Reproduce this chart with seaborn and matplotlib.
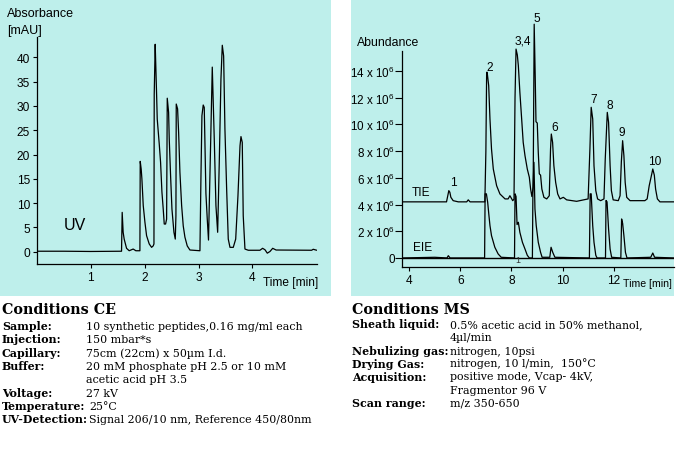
import matplotlib
matplotlib.use("Agg")
import matplotlib.pyplot as plt
import seaborn as sns
import pandas as pd
from matplotlib.patches import Rectangle

# ---------------- data ----------------
# CE / UV electropherogram (time [min], absorbance [mAU])
ce_time = [0.00, 0.50, 1.00, 1.57, 1.582, 1.60, 1.619, 1.663, 1.712, 1.786, 1.836, 1.911,
           1.917, 1.935, 1.948, 1.973, 2.004, 2.035, 2.084, 2.128, 2.158, 2.172, 2.177,
           2.195, 2.208, 2.221, 2.233, 2.27, 2.295, 2.32, 2.344, 2.363, 2.388, 2.407,
           2.419, 2.444, 2.456, 2.481, 2.506, 2.543, 2.568, 2.58, 2.586, 2.611, 2.63,
           2.654, 2.686, 2.716, 2.747, 2.79, 2.84, 3.026, 3.045, 3.063, 3.087, 3.106,
           3.137, 3.162, 3.185, 3.225, 3.255, 3.292, 3.323, 3.355, 3.385, 3.416, 3.441,
           3.466, 3.49, 3.522, 3.552, 3.584, 3.645, 3.69, 3.732, 3.77, 3.788, 3.812,
           3.83, 3.862, 3.924, 4.14, 4.19, 4.234, 4.277, 4.327, 4.377, 4.44, 5.10,
           5.13, 5.195]
ce_mau = [0.1, 0.1, 0.05, 0.1, 8.1, 4.0, 2.6, 0.7, 0.2, 0.55, 0.2, 0.2,
          18.6, 17.0, 15.0, 9.5, 6.1, 3.3, 1.6, 0.9, 1.2, 1.6, 32.4,
          42.7, 37.6, 32.4, 27.3, 22.2, 18.4, 12.3, 8.8, 5.7, 5.7, 6.7,
          31.6, 28.7, 23.2, 15.6, 8.8, 4.0, 2.6, 7.4, 30.4, 29.4, 24.6,
          16.4, 9.5, 5.3, 3.0, 1.2, 0.35, 0.2, 15.6, 28.0, 30.2, 29.7,
          12.0, 6.7, 2.4, 22.5, 38.0, 23.2, 9.5, 4.0, 18.4, 35.5, 42.5,
          40.3, 25.3, 12.9, 2.6, 0.9, 0.9, 2.6, 11.5, 21.8, 23.7, 22.5,
          7.4, 0.55, 0.3, 0.3, 0.7, 0.4, -0.3, 0.05, 0.7, 0.35, 0.3,
          0.5, 0.3]

# MS total ion electropherogram (time [min], abundance [x10^6])
tie_time = [3.73, 4.94, 5.46, 5.55, 5.59, 5.63, 5.72, 5.92, 6.25, 6.31, 6.38, 6.96,
            7.00, 7.03, 7.05, 7.11, 7.16, 7.22, 7.29, 7.42, 7.55, 7.75, 7.87, 7.94,
            8.05, 8.10, 8.14, 8.18, 8.23, 8.27, 8.33, 8.40, 8.46, 8.53, 8.62, 8.70,
            8.75, 8.80, 8.85, 8.89, 8.93, 8.96, 9.01, 9.05, 9.09, 9.14, 9.19, 9.27,
            9.38, 9.48, 9.53, 9.56, 9.61, 9.66, 9.73, 9.81, 9.90, 10.03, 10.16, 10.55,
            11.00, 11.07, 11.12, 11.18, 11.23, 11.30, 11.37, 11.49, 11.62, 11.67, 11.75,
            11.80, 11.86, 11.91, 11.98, 12.18, 12.25, 12.30, 12.35, 12.40, 12.45, 12.51,
            12.64, 13.22, 13.31, 13.39, 13.49, 13.53, 13.59, 13.64, 13.71, 13.81, 14.36]
tie_abund = [4.2, 4.2, 4.2, 5.04, 4.92, 4.54, 4.29, 4.2, 4.2, 4.35, 4.2, 4.2,
             8.0, 13.9, 13.9, 12.9, 10.4, 8.16, 6.66, 5.41, 4.79, 4.42, 4.42, 4.66,
             4.29, 4.4, 12.0, 15.64, 15.2, 14.4, 12.4, 10.4, 8.66, 7.66, 6.66, 6.04,
             5.16, 4.6, 5.3, 17.5, 13.6, 10.2, 10.1, 7.9, 6.3, 6.2, 5.16, 4.54,
             4.42, 4.66, 8.16, 9.28, 8.66, 6.91, 5.66, 4.79, 4.42, 4.54, 4.35, 4.24,
             4.42, 8.16, 11.28, 10.4, 6.9, 5.04, 4.42, 4.29, 4.42, 7.41, 10.9,
             10.16, 6.91, 5.04, 4.35, 4.29, 4.66, 7.2, 8.78, 7.66, 5.66, 4.54,
             4.29, 4.29, 4.42, 5.41, 6.29, 6.66, 6.2, 5.16, 4.42, 4.2, 4.2]

# MS extracted ion electropherogram
eie_time = [3.73, 5.00, 5.48, 5.53, 5.60, 6.95, 6.97, 7.02, 7.07, 7.12, 7.16, 7.22,
            7.35, 7.48, 7.60, 8.12, 8.14, 8.18, 8.22, 8.27, 8.33, 8.43, 8.53, 8.62,
            8.70, 8.82, 8.84, 8.88, 8.92, 8.97, 9.05, 9.14, 9.20, 9.50, 9.55, 9.62,
            9.70, 11.05, 11.08, 11.12, 11.18, 11.23, 11.30, 11.35, 11.68, 11.70, 11.74,
            11.80, 11.86, 11.92, 12.28, 12.31, 12.35, 12.40, 12.46, 12.52, 13.45, 13.53,
            13.60, 14.36]
eie_abund = [0.0, 0.05, 0.0, 0.17, 0.0, 0.0, 4.8, 4.8, 4.17, 3.17, 2.42, 1.67,
             0.8, 0.3, 0.05, 0.0, 4.8, 4.6, 2.5, 2.67, 1.92, 1.17, 0.67, 0.2,
             0.0, 0.0, 5.0, 7.16, 3.67, 2.42, 1.17, 0.42, 0.05, 0.05, 0.8, 0.4,
             0.05, 0.0, 4.8, 4.8, 2.42, 1.17, 0.2, 0.0, 0.0, 4.3, 4.2,
             2.17, 0.67, 0.05, 0.0, 2.92, 2.6, 1.67, 0.42, 0.0, 0.05, 0.37,
             0.05, 0.0]

# peak labels on the MS trace
peak_labels = ["1", "2", "3,4", "5", "6", "7", "8", "9", "10"]
peak_label_t = [5.72, 7.16, 8.44, 8.99, 9.70, 11.20, 11.86, 12.33, 13.62]
peak_label_v = [5.7, 14.3, 16.3, 18.0, 9.78, 11.9, 11.45, 9.4, 7.28]

ce_yticks = [0, 5, 10, 15, 20, 25, 30, 35, 40]
ce_xticks = [1, 2, 3, 4]
ms_yticks = [0, 2, 4, 6, 8, 10, 12, 14]
ms_ytick_labels = ["0"] + [f"{v} x 10$^{{6}}$" for v in ms_yticks[1:]]
ms_xticks = [4, 6, 8, 10, 12]

ce_labels = ["Sample:", "Injection:", "Capillary:", "Buffer:", "", "Voltage:",
             "Temperature:", "UV-Detection:"]
ce_values = ["10 synthetic peptides,0.16 mg/ml each", "150 mbar*s",
             "75cm (22cm) x 50µm I.d.", "20 mM phosphate pH 2.5 or 10 mM",
             "acetic acid pH 3.5", "27 kV", "25°C",
             "Signal 206/10 nm, Reference 450/80nm"]
ms_labels = ["Sheath liquid:", "", "Nebulizing gas:", "Drying Gas:", "Acquisition:",
             "", "Scan range:"]
ms_values = ["0.5% acetic acid in 50% methanol,", "4µl/min", "nitrogen, 10psi",
             "nitrogen, 10 l/min,  150°C", "positive mode, Vcap- 4kV,",
             "Fragmentor 96 V", "m/z 350-650"]

# ---------------- style ----------------
sns.set_theme(style="ticks")
SANS = ["Liberation Sans", "DejaVu Sans"]
plt.rcParams["font.family"] = SANS
plt.rcParams["mathtext.fontset"] = "custom"
plt.rcParams["mathtext.rm"] = "Liberation Sans"
plt.rcParams["mathtext.it"] = "Liberation Sans:italic"
for k in ["text.color", "axes.labelcolor", "xtick.color", "ytick.color",
          "xtick.labelcolor", "ytick.labelcolor", "axes.edgecolor"]:
    plt.rcParams[k] = "black"
CYAN = "#BEEFEB"
W, H = 680, 452

fig = plt.figure(figsize=(W / 100, H / 100), dpi=100)
fig.patch.set_facecolor("white")


def fx(x):
    return x / W


def fy(y):
    return 1 - y / H


def px_axes(left, top, right, bottom):
    return fig.add_axes([fx(left), fy(bottom), (right - left) / W, (bottom - top) / H])


# background panels
fig.add_artist(Rectangle((0, fy(297)), fx(331), 297 / H, transform=fig.transFigure,
                         facecolor=CYAN, edgecolor="none", zorder=0))
fig.add_artist(Rectangle((fx(351), fy(297)), fx(674 - 351), 297 / H,
                         transform=fig.transFigure, facecolor=CYAN, edgecolor="none",
                         zorder=0))

# ---------------- left panel: UV ----------------
ax1 = px_axes(37, 38, 317, 265)
ax1.set_facecolor("none")
ce_df = pd.DataFrame({"t": ce_time, "v": ce_mau})
sns.lineplot(data=ce_df, x="t", y="v", ax=ax1, color="black", lw=0.9,
             sort=False, estimator=None)
ax1.set_xlim(0, 5.2)
ax1.set_ylim(-2.53, 44.2)
ax1.set_xticks(ce_xticks)
ax1.set_yticks(ce_yticks)
ax1.set_xlabel("")
ax1.set_ylabel("")
for s in ["top", "right"]:
    ax1.spines[s].set_visible(False)
for s in ["left", "bottom"]:
    ax1.spines[s].set_color("black")
    ax1.spines[s].set_linewidth(0.9)
ax1.tick_params(axis="both", direction="out", length=3, width=0.8, colors="black",
                labelsize=8.6, pad=2)

fig.text(fx(7), fy(14), "Absorbance", fontsize=9, va="center", ha="left")
fig.text(fx(7), fy(31), "[mAU]", fontsize=9, va="center", ha="left")
fig.text(fx(64), fy(226), "UV", fontsize=11.5, va="center", ha="left")
fig.text(fx(318), fy(283), "Time [min]", fontsize=8.6, va="center", ha="right")

# ---------------- right panel: MS ----------------
ax2 = px_axes(402.3, 10, 674, 268.3)
ax2.set_facecolor("none")
tie_df = pd.DataFrame({"t": tie_time, "v": tie_abund})
eie_df = pd.DataFrame({"t": eie_time, "v": eie_abund})
ax2.axhline(0, color="black", lw=1.0, zorder=1)
sns.lineplot(data=tie_df, x="t", y="v", ax=ax2, color="black", lw=0.9,
             sort=False, estimator=None)
sns.lineplot(data=eie_df, x="t", y="v", ax=ax2, color="black", lw=0.9,
             sort=False, estimator=None)
ax2.set_xlim(3.73, 14.36)
ax2.set_ylim(-0.70, 18.64)
ax2.set_xticks(ms_xticks)
ax2.set_yticks(ms_yticks)
ax2.set_yticklabels(ms_ytick_labels)
ax2.set_xlabel("")
ax2.set_ylabel("")
for s in ["top", "right"]:
    ax2.spines[s].set_visible(False)
for s in ["left", "bottom"]:
    ax2.spines[s].set_color("black")
    ax2.spines[s].set_linewidth(0.9)
ax2.spines["left"].set_bounds(-0.70, 15.5)
ax2.tick_params(axis="y", direction="out", length=5, width=0.8, colors="black",
                labelsize=8.4, pad=0.5)
ax2.tick_params(axis="x", direction="out", length=3, width=0.8, colors="black",
                labelsize=8.6, pad=2)

for lab, t, v in zip(peak_labels, peak_label_t, peak_label_v):
    ax2.text(t, v, lab, fontsize=8.6, ha="center", va="center", clip_on=False)
ax2.text(8.26, -0.15, "1", fontsize=6.5, ha="center", va="center", color="#333333")

fig.text(fx(357), fy(43), "Abundance", fontsize=8.8, va="center", ha="left")
fig.text(fx(412), fy(193), "TIE", fontsize=8.6, va="center", ha="left")
fig.text(fx(413), fy(248), "EIE", fontsize=8.6, va="center", ha="left")
fig.text(fx(672), fy(284), "Time [min]", fontsize=7.6, va="center", ha="right")

# ---------------- condition text blocks ----------------
SERIF = ["DejaVu Serif"]
HEAD = 10.3
BODY = 7.9
fig.text(fx(2), fy(310), "Conditions CE", fontsize=HEAD, fontweight="bold",
         family=SERIF, va="center", ha="left")
ce_rows = [326.7, 340, 353.3, 366.7, 380, 394, 406.7, 420]
for lab, val, y in zip(ce_labels, ce_values, ce_rows):
    if lab:
        fig.text(fx(2), fy(y), lab, fontsize=BODY, fontweight="bold", family=SERIF,
                 va="center", ha="left")
    xv = 89 if lab in ("Temperature:", "UV-Detection:") else 86
    fig.text(fx(xv), fy(y), val, fontsize=BODY, family=SERIF, va="center", ha="left")

fig.text(fx(352), fy(310), "Conditions MS", fontsize=HEAD, fontweight="bold",
         family=SERIF, va="center", ha="left")
ms_rows = [325, 338.3, 351.7, 364, 377.3, 390.7, 403.3]
for lab, val, y in zip(ms_labels, ms_values, ms_rows):
    if lab:
        fig.text(fx(352), fy(y), lab, fontsize=BODY, fontweight="bold", family=SERIF,
                 va="center", ha="left")
    fig.text(fx(450), fy(y), val, fontsize=BODY, family=SERIF, va="center", ha="left")

fig.savefig("out.png", dpi=100, facecolor="white")
